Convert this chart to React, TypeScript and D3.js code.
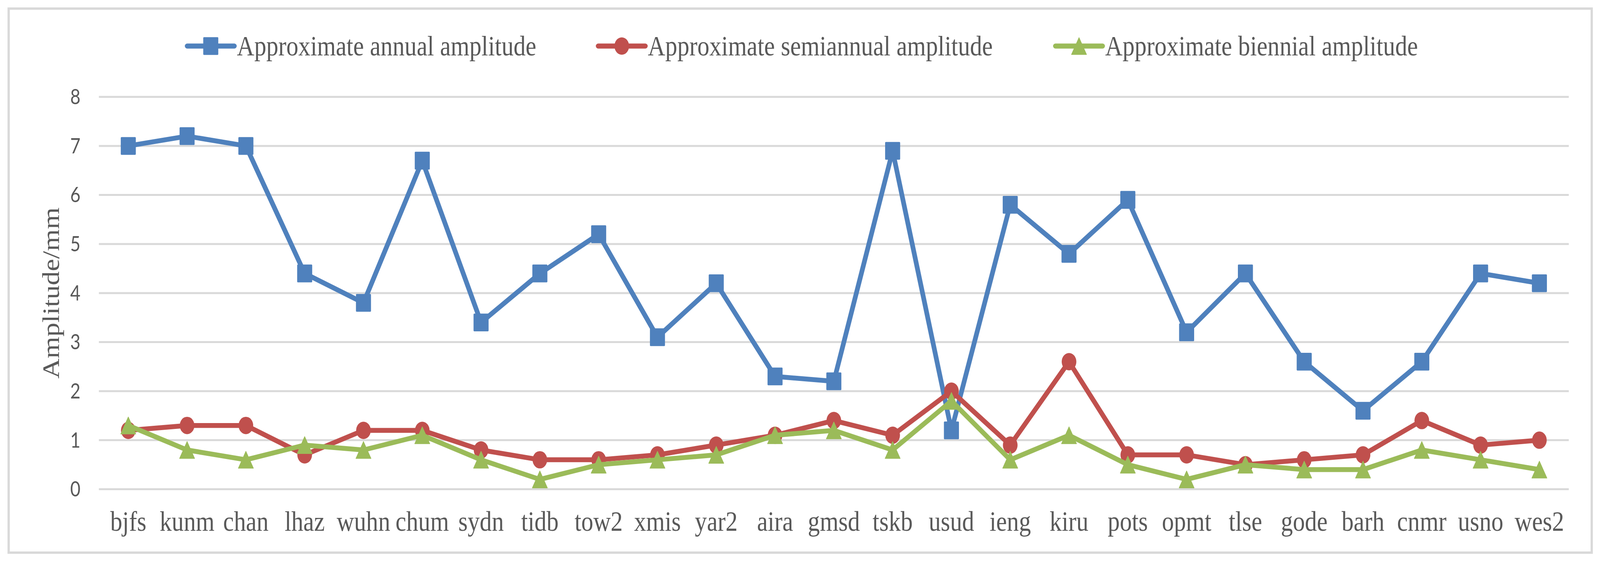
import { useEffect, useRef } from 'react';

import * as d3 from 'd3';

const WIDTH = 4255;
const HEIGHT = 1440;
// the reference is stretched vertically a little, text and markers included
const STRETCH = 1.14;

const MARGIN = ({
  top: 248.3, right: 83, bottom: 186.5, left: 263,
});

const stations = ['bjfs', 'kunm', 'chan', 'lhaz', 'wuhn', 'chum', 'sydn', 'tidb', 'tow2', 'xmis',
  'yar2', 'aira', 'gmsd', 'tskb', 'usud', 'ieng', 'kiru', 'pots', 'opmt', 'tlse',
  'gode', 'barh', 'cnmr', 'usno', 'wes2'];

const annual = [7.0, 7.2, 7.0, 4.4, 3.8, 6.7, 3.4, 4.4, 5.2, 3.1,
  4.2, 2.3, 2.2, 6.9, 1.2, 5.8, 4.8, 5.9, 3.2, 4.4,
  2.6, 1.6, 2.6, 4.4, 4.2];
const semiannual = [1.2, 1.3, 1.3, 0.7, 1.2, 1.2, 0.8, 0.6, 0.6, 0.7,
  0.9, 1.1, 1.4, 1.1, 2.0, 0.9, 2.6, 0.7, 0.7, 0.5,
  0.6, 0.7, 1.4, 0.9, 1.0];
const biennial = [1.3, 0.8, 0.6, 0.9, 0.8, 1.1, 0.6, 0.2, 0.5, 0.6,
  0.7, 1.1, 1.2, 0.8, 1.8, 0.6, 1.1, 0.5, 0.2, 0.5,
  0.4, 0.4, 0.8, 0.6, 0.4];

const seriesNames = ['Approximate annual amplitude', 'Approximate semiannual amplitude', 'Approximate biennial amplitude'];
const yTicks = [0, 1, 2, 3, 4, 5, 6, 7, 8];

const SERIES = [
  { name: seriesNames[0], values: annual, color: '#4f81bd', marker: 'square', legendX: 498 },
  { name: seriesNames[1], values: semiannual, color: '#c0504d', marker: 'circle', legendX: 1591 },
  { name: seriesNames[2], values: biennial, color: '#9bbb59', marker: 'triangle', legendX: 2807 },
];

const TEXT = '#595959';
const GRID = '#d9d9d9';
const SERIF = '"Liberation Serif", "Times New Roman", serif';

function drawMarker(g, type, color) {
  if (type === 'square') {
    g.append('rect').attr('x', -20).attr('y', -20).attr('width', 40).attr('height', 40)
      .attr('rx', 2).attr('fill', color);
  } else if (type === 'circle') {
    g.append('circle').attr('r', 19.5).attr('fill', color);
  } else {
    g.append('path').attr('d', 'M0,-19L20,19L-20,19Z').attr('fill', color)
      .attr('stroke', color).attr('stroke-width', 1.5).attr('stroke-linejoin', 'round');
  }
}

function AmplitudeChart() {
  const svgRef = useRef(null);

  useEffect(() => {
    const svg = d3.select(svgRef.current);
    svg.selectAll('*').remove();

    const x = d3.scaleBand()
      .domain(stations)
      .range([MARGIN.left, WIDTH - MARGIN.right]);
    const cx = (d) => (x(d) || 0) + x.bandwidth() / 2;

    const y = d3.scaleLinear()
      .domain([0, 8])
      .range([HEIGHT - MARGIN.bottom, MARGIN.top]);

    // outer frame
    svg.append('rect')
      .attr('x', 23).attr('y', 22)
      .attr('width', 4210).attr('height', 1394)
      .attr('fill', '#fff')
      .attr('stroke', GRID)
      .attr('stroke-width', 6);

    // gridlines
    svg.append('g')
      .selectAll('line')
      .data(yTicks)
      .join('line')
      .attr('x1', MARGIN.left)
      .attr('x2', WIDTH - MARGIN.right)
      .attr('y1', (d) => y(d))
      .attr('y2', (d) => y(d))
      .attr('stroke', GRID)
      .attr('stroke-width', 5);

    // y tick labels
    svg.append('g')
      .selectAll('text')
      .data(yTicks)
      .join('text')
      .attr('transform', (d) => `translate(214,${y(d)}) scale(1,${STRETCH})`)
      .attr('y', 16.5)
      .attr('text-anchor', 'end')
      .attr('font-family', 'Lato, "Open Sans", sans-serif')
      .attr('font-size', 47)
      .attr('fill', TEXT)
      .text((d) => d);

    // x labels
    svg.append('g')
      .selectAll('text')
      .data(stations)
      .join('text')
      .attr('transform', (d) => `translate(${cx(d)},1360) scale(1,${STRETCH})`)
      .attr('text-anchor', 'middle')
      .attr('font-family', SERIF)
      .attr('font-size', 64)
      .attr('fill', TEXT)
      .text((d) => d);

    // y axis title
    svg.append('text')
      .attr('transform', `translate(157,${(y(0) + y(8)) / 2}) scale(1,${STRETCH}) rotate(-90)`)
      .attr('text-anchor', 'middle')
      .attr('font-family', SERIF)
      .attr('font-size', 63)
      .attr('fill', TEXT)
      .text('Amplitude/mm');

    const line = d3.line()
      .x((d) => cx(d.station))
      .y((d) => y(d.value));

    SERIES.forEach((s) => {
      const pts = stations.map((st, i) => ({ station: st, value: s.values[i] }));
      const g = svg.append('g').attr('class', 'series');
      g.append('path')
        .datum(pts)
        .attr('d', line)
        .attr('fill', 'none')
        .attr('stroke', s.color)
        .attr('stroke-width', 12.5)
        .attr('stroke-linejoin', 'round')
        .attr('stroke-linecap', 'round');
      g.selectAll('g.marker')
        .data(pts)
        .join('g')
        .attr('class', 'marker')
        .attr('transform', (d) => `translate(${cx(d.station)},${y(d.value)}) scale(1,${STRETCH})`)
        .each(function () { drawMarker(d3.select(this), s.marker, s.color); });
    });

    // legend
    const legend = svg.append('g').attr('class', 'legend');
    SERIES.forEach((s) => {
      const item = legend.append('g').attr('transform', `translate(${s.legendX},118)`);
      item.append('line')
        .attr('x1', 0).attr('x2', 125)
        .attr('stroke', s.color)
        .attr('stroke-width', 13)
        .attr('stroke-linecap', 'round');
      const m = item.append('g').attr('transform', `translate(62.5,0) scale(1,${STRETCH})`);
      drawMarker(m, s.marker, s.color);
      item.append('text')
        .attr('transform', `translate(132,23.5) scale(1,${STRETCH})`)
        .attr('font-family', SERIF)
        .attr('font-size', 64)
        .attr('fill', TEXT)
        .text(s.name);
    });
  }, []);

  // fill the whole viewport, whatever its real size
  return (
    <svg
      ref={svgRef}
      viewBox={`0 0 ${WIDTH} ${HEIGHT}`}
      preserveAspectRatio="none"
      style={{
        position: 'fixed', left: 0, top: 0, width: '100vw', height: '100vh', display: 'block', background: '#fff',
      }}
    />
  );
}

export default function App() {
  return <AmplitudeChart />;
}
